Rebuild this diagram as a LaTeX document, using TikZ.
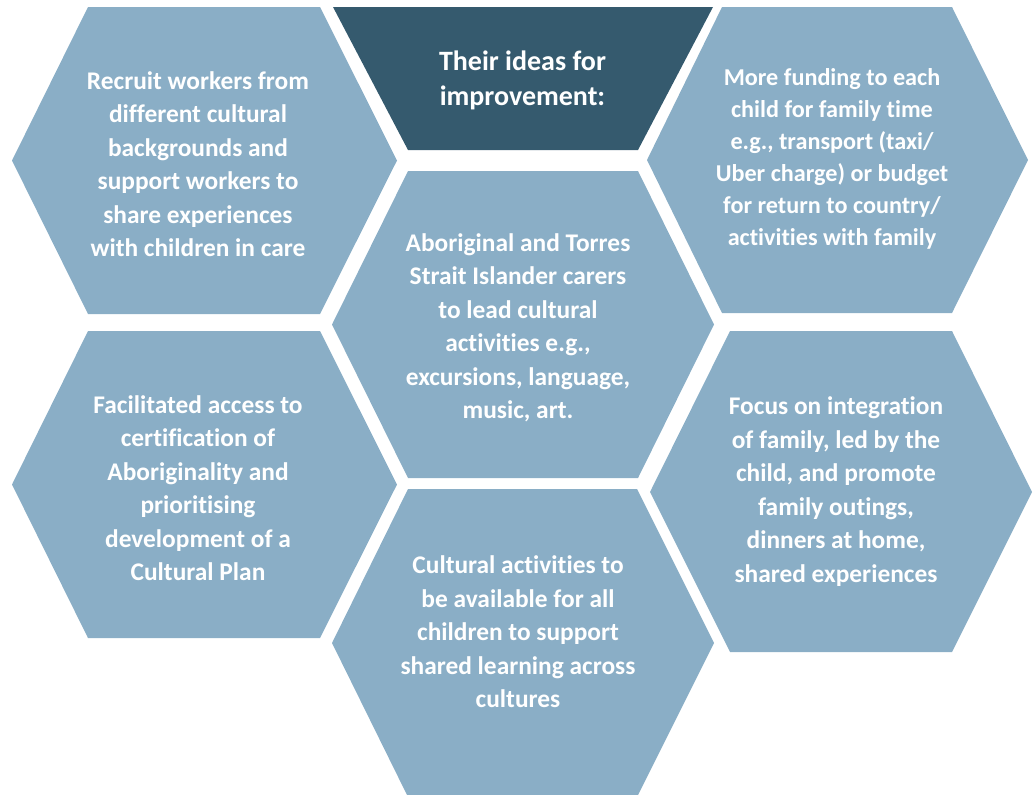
\documentclass[tikz,border=0pt]{standalone}
\usepackage{fontspec}
\setmainfont{Carlito}[Ligatures=NoCommon]
\definecolor{CellBlue}{RGB}{138,174,198}
\definecolor{HeadBlue}{RGB}{53,90,110}

\begin{document}
\begin{tikzpicture}[x=0.5pt, y=-0.5pt,
                cell/.style={fill=CellBlue},
                head/.style={fill=HeadBlue},
                idea/.style={text=white, inner sep=0pt, align=center, font=\fontsize{12.7}{16.75}\selectfont\bfseries},
                title/.style={text=white, inner sep=0pt, align=center, font=\fontsize{14}{17.5}\selectfont\bfseries}
            ]
                \useasboundingbox (0,0) rectangle (1034,794);

                % Heading (cut hexagon at the top)
                \fill[head] (333,7) -- (713,7) -- (638,150) -- (408,150) -- cycle;
                \node[title] (heading) at (522.5,80) {Their ideas for\\improvement:};

                % Left column
                \fill[cell] (12,160.5) -- (88,7) -- (320,7) -- (397,160.5) -- (320,314) -- (88,314) -- cycle;
                \fill[cell] (12,484.5) -- (88,331) -- (320,331) -- (397,484.5) -- (320,638) -- (88,638) -- cycle;
                \node[idea] (recruit) at (198,164) {Recruit workers from\\different cultural\\backgrounds and\\support workers to\\share experiences\\with children in care};
                \node[idea] (certify) at (198,488) {Facilitated access to\\certification of\\Aboriginality and\\prioritising\\development of a\\Cultural Plan};

                % Middle column
                \fill[cell] (332,324.5) -- (408,171) -- (638,171) -- (714,324.5) -- (638,478) -- (408,478) -- cycle;
                \fill[cell] (332,643) -- (408,489) -- (637,489) -- (714,643) -- (637,797) -- (408,797) -- cycle;
                \node[idea] (carers) at (518,328) {Aboriginal and Torres\\Strait Islander carers\\to lead cultural\\activities e.g.,\\excursions, language,\\music, art.};
                \node[idea] (shared) at (518,632) {Cultural activities to\\be available for all\\children to support\\shared learning across\\cultures};

                % Right column
                \fill[cell] (647,160) -- (722,7) -- (952,7) -- (1028,160) -- (952,313) -- (722,313) -- cycle;
                \fill[cell] (650,492) -- (730,331) -- (952,331) -- (1032,492) -- (952,652) -- (730,652) -- cycle;
                \node[idea, font=\fontsize{12.1}{16}\selectfont\bfseries] (funding) at (832,159) {More funding to each\\child for family time\\e.g., transport (taxi/\\Uber charge) or budget\\for return to country/\\activities with family};
                \node[idea] (family) at (836,491.5) {Focus on integration\\of family, led by the\\child, and promote\\family outings,\\dinners at home,\\shared experiences};
            \end{tikzpicture}
\end{document}
